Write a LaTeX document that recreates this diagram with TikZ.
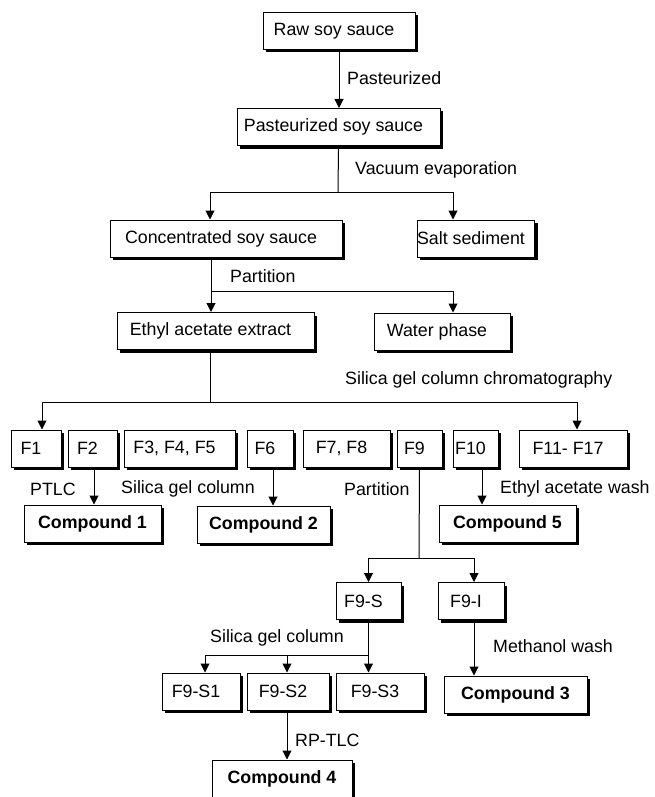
\documentclass[tikz,border=0pt]{standalone}
\usepackage{fontspec}
\setmainfont{Liberation Sans}
\usetikzlibrary{arrows.meta, shadows}

\begin{document}
\begin{tikzpicture}[
  x=1pt, y=-1pt,
  font=\fontsize{17.8pt}{21pt}\selectfont,
  frame/.style={draw, line width=1pt, fill=white, inner sep=0pt, minimum height=37pt, minimum width=#1,
    drop shadow={shadow xshift=3pt, shadow yshift=-3pt, fill=black, opacity=1}},
  box/.style={frame=#1, execute at end node=\hspace{10pt}},
  cpd/.style={frame=#1, font=\fontsize{17.8pt}{21pt}\selectfont\bfseries},
  lbl/.style={anchor=west, inner sep=0pt},
  arrow/.style={-{Triangle[width=9pt, length=9pt]}, line width=1pt},
  link/.style={line width=1pt}
]
\useasboundingbox (0,0) rectangle (655,797);

\node[box=152pt] (raw) at (339,31) {Raw soy sauce};
\node[box=203pt] (past) at (338.5,127) {Pasteurized soy sauce};
\node[box=232pt] (conc) at (226,238.5) {Concentrated soy sauce};
\node[box=114pt] (salt) at (476,238.5) {Salt sediment};
\node[box=197pt] (ethyl) at (215.5,331) {Ethyl acetate extract};
\node[box=136pt] (water) at (442,331.5) {Water phase};

\node[box=50pt] (f1) at (36,448.5) {F1};
\node[box=49pt] (f2) at (92.5,448.5) {F2};
\node[box=111pt] (f345) at (179.5,448.5) {F3, F4, F5};
\node[box=46pt] (f6) at (270,448.5) {F6};
\node[box=87pt] (f78) at (346.5,448.5) {F7, F8};
\node[box=45pt] (f9) at (419.5,448.5) {F9};
\node[box=45pt] (f10) at (475.5,448.5) {F10};
\node[box=108pt] (f11) at (573,448.5) {F11- F17};

\node[cpd=137pt] (cpd1) at (92.5,523.5) {Compound 1};
\node[cpd=133pt] (cpd2) at (263.5,524.5) {Compound 2};
\node[cpd=137pt] (cpd5) at (507.5,523.5) {Compound 5};

\node[box=65pt] (f9s) at (368.5,601) {F9-S};
\node[box=66pt] (f9i) at (471,601) {F9-I};
\node[box=78pt] (f9s1) at (201,691.5) {F9-S1};
\node[box=82pt] (f9s2) at (288,691.5) {F9-S2};
\node[box=88pt] (f9s3) at (380,691.5) {F9-S3};
\node[cpd=143pt] (cpd3) at (515.5,694.5) {Compound 3};
\node[cpd=140pt] (cpd4) at (282,778.5) {Compound 4};

\node[lbl] (l1) at (347,78) {Pasteurized};
\node[lbl] (l2) at (355,170) {Vacuum evaporation};
\node[lbl] (l3) at (230,276) {Partition};
\node[lbl] (l4) at (345,380) {Silica gel column chromatography};
\node[lbl] (l5) at (30,489) {PTLC};
\node[lbl] (l6) at (121,489) {Silica gel column};
\node[lbl] (l7) at (344,489) {Partition};
\node[lbl] (l8) at (500,489) {Ethyl acetate wash};
\node[lbl] (l9) at (210,638) {Silica gel column};
\node[lbl] (l10) at (493,646) {Methanol wash};
\node[lbl] (l11) at (295,740) {RP-TLC};

\coordinate (j1) at (338,192);
\coordinate (j2) at (211,291);
\coordinate (j3) at (210,402);
\coordinate (j4) at (419,558);
\coordinate (j5) at (369,655);

\draw[arrow] (raw.south) -- (raw.south |- past.north);

\draw[link] (past.south) -- (j1);
\draw[arrow] (j1) -| ([xshift=-16pt]conc.north);
\draw[arrow] (j1) -| ([xshift=-23pt]salt.north);

\draw[link] (j2 |- conc.south) -- (j2);
\draw[arrow] (j2) -- (j2 |- ethyl.north);
\draw[arrow] (j2) -| ([xshift=11pt]water.north);

\draw[link] (j3 |- ethyl.south) -- (j3);
\draw[arrow] (j3) -| ([xshift=6pt]f1.north);
\draw[arrow] (j3) -| ([xshift=4pt]f11.north);

\draw[arrow] ([xshift=1.5pt]f2.south) -- ([xshift=1.5pt]f2.south |- cpd1.north);
\draw[arrow] ([xshift=3pt]f6.south) -- ([xshift=3pt]f6.south |- cpd2.north);
\draw[arrow] ([xshift=6.5pt]f10.south) -- ([xshift=6.5pt]f10.south |- cpd5.north);

\draw[link] (f9.south) -- (j4);
\draw[arrow] (j4) -| (f9s.north);
\draw[arrow] (j4) -| ([xshift=3pt]f9i.north);

\draw[arrow] (f9s.south) -- (f9s.south |- f9s3.north);
\draw[arrow] (j5) -| ([xshift=-1pt]f9s2.north);
\draw[arrow] (j5) -| ([xshift=4pt]f9s1.north);

\draw[arrow] ([xshift=3pt]f9i.south) -- ([xshift=3pt]f9i.south |- cpd3.north);
\draw[arrow] ([xshift=-1pt]f9s2.south) -- ([xshift=-1pt]f9s2.south |- cpd4.north);
\end{tikzpicture}
\end{document}
